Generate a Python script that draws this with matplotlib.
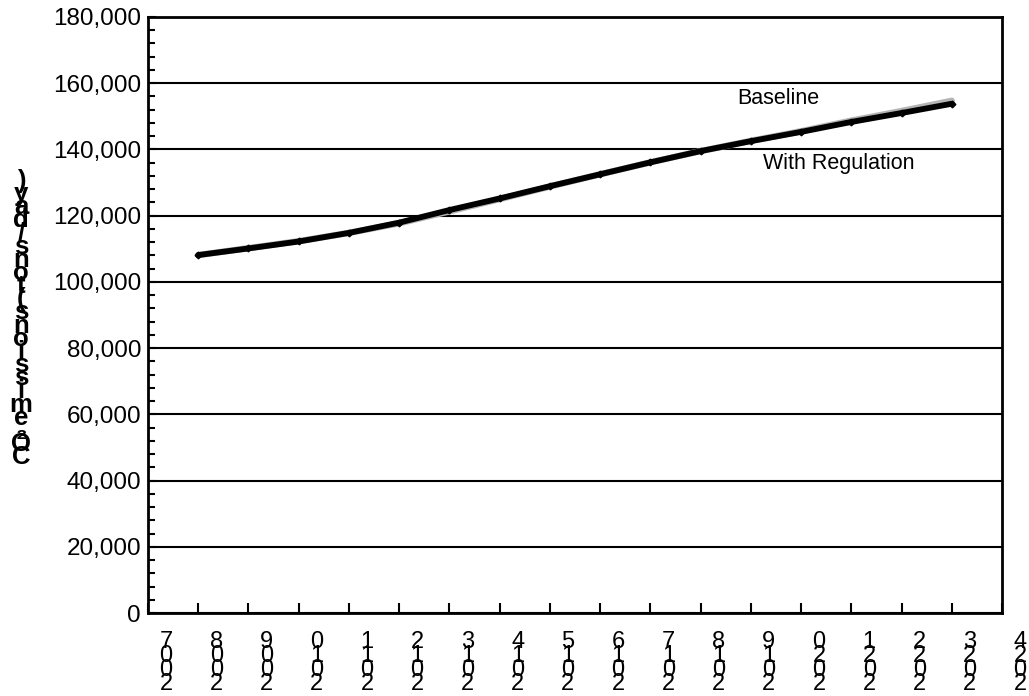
import matplotlib
matplotlib.use("Agg")
import matplotlib.pyplot as plt
from matplotlib.ticker import FuncFormatter, MultipleLocator
from matplotlib.transforms import ScaledTranslation

plt.rcParams["font.family"] = ["Liberation Sans", "DejaVu Sans"]

# Projected daily CO2 emissions, 2008-2023
years = [2008, 2009, 2010, 2011, 2012, 2013, 2014, 2015,
         2016, 2017, 2018, 2019, 2020, 2021, 2022, 2023]
baseline = [108100, 110200, 112300, 114800, 117700, 121300, 125000, 128800,
            132500, 136100, 139500, 142600, 145500, 148700, 151600, 154700]
with_regulation = [108100, 110100, 112200, 114800, 117900, 121700, 125200, 128900,
                   132500, 136100, 139500, 142500, 145300, 148300, 151000, 153800]
axis_years = list(range(2007, 2025))
ylabel_text = "CO\u2082 emissions (tons/day)"


def stacked(s):
    # characters piled vertically, last character on top
    return "\n".join(reversed(s.replace(" ", "")))


fig = plt.figure(figsize=(10.29, 6.96), dpi=100)
ax = fig.add_axes([148 / 1029, 1 - 613 / 696, (1002 - 148) / 1029, (613 - 17) / 696])

ax.plot(years, baseline, color="#b4b4b4", lw=4.6, solid_capstyle="round", zorder=3)
ax.plot(years, with_regulation, color="black", lw=4.2, marker="D", ms=3.4,
        solid_capstyle="round", zorder=4)

ax.set_xlim(axis_years[0], axis_years[-1])
ax.set_ylim(0, 180000)
ax.yaxis.set_major_locator(MultipleLocator(20000))
ax.yaxis.set_minor_locator(MultipleLocator(4000))
ax.yaxis.set_major_formatter(FuncFormatter(lambda v, p: f"{int(v):,}"))
ax.grid(axis="y", color="black", lw=1.5)
ax.set_axisbelow(True)

for s in ax.spines.values():
    s.set_linewidth(2)
    s.set_color("black")

ax.tick_params(axis="y", which="major", direction="in", length=6, width=1.5,
               labelsize=17.5, pad=5)
ax.tick_params(axis="y", which="minor", direction="in", length=5, width=1.5)
ax.tick_params(axis="x", which="major", direction="in", length=7, width=1.5,
               labelsize=17, pad=13)

ax.set_xticks(axis_years)
ax.set_xticklabels([stacked(str(y)) for y in axis_years], va="top", ha="center")
shift = ScaledTranslation(18 / 100, 0, fig.dpi_scale_trans)
for lab in ax.get_xticklabels():
    lab.set_linespacing(0.52)
    lab.set_transform(lab.get_transform() + shift)

fig.text(21 / 1029, 1 - 319 / 696, stacked(ylabel_text), fontsize=18.5,
         fontweight="bold", ha="center", va="center", linespacing=0.43)

ax.text(2018.72, 155500, "Baseline", fontsize=15.5, ha="left", va="center")
ax.text(2019.24, 135700, "With Regulation", fontsize=15.5, ha="left", va="center")

fig.savefig("out.png", dpi=100)
